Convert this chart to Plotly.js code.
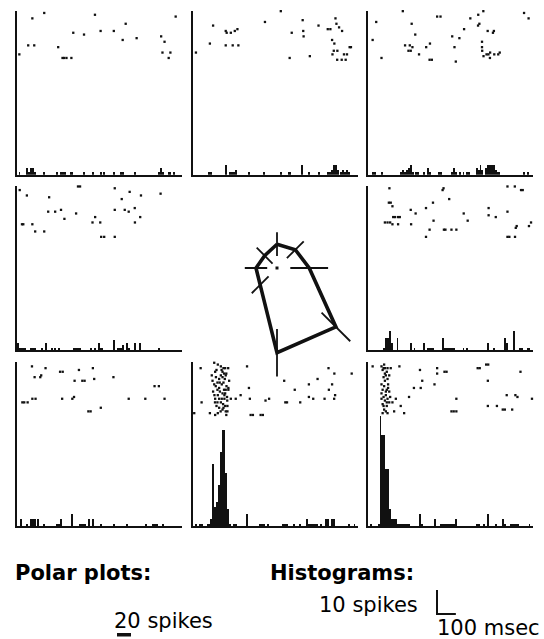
<!DOCTYPE html>
<html><head><meta charset="utf-8">
<script src="https://cdn.plot.ly/plotly-3.0.1.min.js"></script>
<style>html,body{margin:0;padding:0;background:#fff}#chart{width:544px;height:639px}</style>
</head><body><div id="chart"></div>
<script>
// ---------- DATA ----------
// Raster: spike times (ms) and trial numbers; histogram: bin start (ms, 10 ms bins) and spike counts
const r11T = [14,61,88,83,61,93,146,220,243,251,264,290,300,357,415,467,445,515,578,562,636,766,784,773,815,806,843];
const r11Trial = [26,1,1,6,21,21,3,22,28,28,28,28,14,15,4,1,13,13,9,18,17,16,19,25,25,28,5];
const h11Bins = [10,50,60,70,80,90,140,210,230,240,250,280,290,350,400,440,460,510,550,560,620,750,760,770,800,810,830];
const h11Counts = [1,3,1,3,3,1,1,1,1,1,1,1,1,1,1,1,1,1,1,1,1,1,3,1,1,1,1];

const r12T = [14,88,105,172,177,199,220,234,172,209,239,295,380,464,511,522,580,583,585,618,664,713,727,754,759,773,789,736,748,745,764,738,763,787,808,799,815,829,836];
const r12Trial = [25,20,10,13,14,14,13,12,21,21,21,1,8,2,28,14,7,13,16,27,10,12,12,6,9,11,13,18,20,24,24,26,29,29,29,26,26,22,22];
const h12Bins = [80,90,170,190,200,210,220,290,370,460,500,510,570,610,660,710,720,730,740,750,760,780,790,800,810,820];
const h12Counts = [1,1,4,1,1,1,2,1,1,1,1,1,4,1,1,1,1,2,4,4,2,1,2,1,2,1];

const r13T = [23,42,70,183,230,249,195,220,213,225,234,269,307,327,325,337,365,383,445,457,464,483,508,541,582,589,583,610,633,661,666,603,603,604,611,627,637,646,645,668,689,697,826,850];
const r13Trial = [18,8,28,2,9,15,21,21,24,24,22,26,22,20,29,29,5,5,16,22,30,17,12,6,10,9,4,2,13,14,13,19,22,24,27,26,26,25,28,26,26,25,3,6];
const h13Bins = [20,30,70,170,180,190,200,210,220,230,250,260,290,310,320,370,380,440,450,460,480,500,520,530,570,580,590,600,620,630,640,650,660,670,680,690,820,840];
const h13Counts = [1,1,1,1,2,1,2,3,4,1,1,1,1,3,1,1,1,1,3,1,1,1,1,1,3,2,4,2,3,4,4,4,4,2,1,1,1,1];

const r21T = [16,54,28,35,83,98,146,172,167,204,235,253,315,325,336,402,416,443,448,464,520,520,520,557,573,594,599,626,627,655,659,763];
const r21Trial = [4,7,23,23,23,27,27,8,16,16,15,20,17,2,2,22,19,22,30,30,3,15,30,9,15,16,5,14,22,19,7,6];
const h21Bins = [0,10,20,30,40,70,80,90,130,150,180,200,220,300,310,320,330,390,410,430,440,450,510,530,540,550,560,580,590,620,650,750];
const h21Counts = [3,1,1,1,1,1,1,1,1,3,1,1,1,1,1,1,1,1,1,3,1,1,4,1,1,1,2,3,1,3,3,1];

const r23T = [112,109,119,128,132,142,158,167,88,102,116,128,158,225,251,227,306,343,346,325,306,394,399,429,401,409,441,467,506,527,638,638,676,738,777,810,819,738,738,748,778,782,787,852,863];
const r23Trial = [3,11,11,13,19,19,19,19,22,22,22,23,23,15,17,23,14,11,21,26,30,4,3,9,26,26,26,26,17,21,14,18,19,2,2,4,4,16,30,30,30,25,24,24,22];
const h23Bins = [80,90,100,110,120,150,220,240,290,310,320,330,340,390,400,410,420,430,440,450,500,520,630,660,720,730,770,800,810,840,850];
const h23Counts = [1,5,5,8,3,5,3,1,3,1,1,1,1,5,1,1,1,1,1,1,1,1,3,1,5,3,8,1,1,1,1];

const r31T = [81,223,95,125,130,153,230,244,330,307,348,360,404,411,513,30,40,58,83,100,241,295,304,380,392,446,594,682,784,731,754];
const r31Trial = [4,1,10,10,9,5,7,7,6,12,12,12,5,11,10,24,24,24,22,22,22,22,21,29,29,27,22,22,22,15,15];
const h31Bins = [20,50,70,80,90,110,140,210,220,230,290,330,340,350,360,380,400,440,510,580,680,720,730,740,770];
const h31Counts = [3,1,3,3,3,3,1,1,1,3,5,1,1,1,1,3,3,1,1,1,1,1,1,1,1];

const r32T = [5,39,44,88,116,120,128,142,172,186,199,225,251,285,295,300,304,316,357,369,383,402,482,488,497,538,567,613,613,636,659,696,717,736,719,748,752,747,840,
  111,123,116,146,160,169,155,163,172,146,155,167,137,102,111,128,119,137,151,160,176,186,163,172,186,128,141,155,169,179,165,151,137,116,128,146,158,169,181,137,155,172,181,123,112,105,98,199,130,150,175,120,140,165,130,180,115,160,145,130,175,190,185];
const r32Trial = [30,5,24,30,31,1,1,1,1,1,1,22,20,4,16,22,31,31,31,31,23,22,12,24,24,17,24,14,21,22,11,22,5,14,17,8,20,22,8,
  2,6,7,4,5,5,7,8,9,9,10,11,11,12,14,13,15,16,14,13,15,16,17,17,17,17,18,19,19,21,22,22,22,22,24,24,25,26,26,27,28,29,29,26,20,18,9,22,3,6,8,10,13,20,20,23,24,27,29,30,31,12,5];
const h32Bins = [10,30,40,70,80,90,100,110,120,130,140,150,160,170,180,190,210,220,280,350,360,370,390,470,480,490,530,560,600,610,620,630,640,650,670,700,710,730,740,820,850];
const h32Counts = [1,1,1,1,1,3,26,8,10,17,31,40,40,22,7,1,1,1,5,1,1,1,1,1,1,1,1,1,3,1,1,1,1,1,1,3,3,3,3,1,1];

const r33T = [23,165,274,286,278,242,216,365,365,351,404,415,427,435,467,441,453,467,580,591,625,636,634,634,682,713,724,763,734,780,791,773,807,868,
  76,93,84,102,119,76,88,98,81,102,88,105,84,98,76,93,81,102,88,76,98,84,76,102,111,116,128,146,105,137,172,190,70,81,93,70,93,70,81,93,111,88,111,70,98];
const r33Trial = [4,4,6,12,16,16,21,5,8,14,7,7,1,1,22,29,29,29,5,5,3,3,12,26,26,28,28,28,20,20,21,1,7,22,
  1,1,3,5,5,6,8,7,10,11,12,14,15,17,17,18,21,22,23,25,26,28,30,30,24,21,24,22,16,29,26,30,4,5,9,14,20,22,26,29,18,5,9,19,24];
const h33Bins = [10,50,60,70,80,90,100,110,120,130,140,150,160,170,180,190,200,210,270,280,350,380,390,400,410,420,430,440,450,460,570,580,610,630,670,710,720,750,760,770,780,790,850];
const h33Counts = [1,1,46,38,38,24,24,7,3,3,3,1,1,1,1,1,1,1,5,1,3,1,1,1,1,1,1,1,1,3,1,1,1,5,1,3,1,1,1,1,1,1,1];

// Polar plot: direction (deg, 0 = right, counter-clockwise), mean response and error (spikes)
const polarDirs = [90, 45, 0, 315, 270, 225, 180, 135];
const polarMean = [34, 37, 46, 119, 121, 34, 30, 25];
const polarErr  = [17, 17, 27, 29, 34, 17, 16, 16];

// ---------- LAYOUT GEOMETRY ----------
const W = 544, H = 639;
const colLeft = [16.7, 193.3, 368.3], colW = 165;
const rowTop = [10.7, 186, 362.3], rowH = 164;
const T_MAX = 875;              // ms shown per panel
const PX_PER_SPIKE = 2.4;       // histogram vertical scale
const ROW_PX = 1.8;             // raster trial spacing
const POLAR_PX_PER_SPIKE = 0.7;
const polarC = [277, 268], polarR = 130;
const fx = p => p / W, fy = p => 1 - p / H;

const panels = [
  {row:0,col:0,t:r11T,tr:r11Trial,b:h11Bins,c:h11Counts},
  {row:0,col:1,t:r12T,tr:r12Trial,b:h12Bins,c:h12Counts},
  {row:0,col:2,t:r13T,tr:r13Trial,b:h13Bins,c:h13Counts},
  {row:1,col:0,t:r21T,tr:r21Trial,b:h21Bins,c:h21Counts},
  {row:1,col:2,t:r23T,tr:r23Trial,b:h23Bins,c:h23Counts},
  {row:2,col:0,t:r31T,tr:r31Trial,b:h31Bins,c:h31Counts},
  {row:2,col:1,t:r32T,tr:r32Trial,b:h32Bins,c:h32Counts},
  {row:2,col:2,t:r33T,tr:r33Trial,b:h33Bins,c:h33Counts}
];

const INK = '#111';
const traces = [];
const layout = {
  width: W, height: H, margin: {l:0, r:0, t:0, b:0},
  paper_bgcolor: '#fff', plot_bgcolor: 'rgba(0,0,0,0)',
  showlegend: false, bargap: 0, barmode: 'overlay',
  font: {family: 'DejaVu Sans, sans-serif', color: '#000'},
  annotations: [], shapes: []
};

const tTop = 1 + 1.33 / ROW_PX;
panels.forEach((p, i) => {
  const n = i + 1, rn = i + 9;
  const xs = n === 1 ? '' : String(n);
  const xd = [fx(colLeft[p.col]), fx(colLeft[p.col] + colW)];
  const yd = [fy(rowTop[p.row] + rowH), fy(rowTop[p.row])];
  layout['xaxis' + xs] = {domain: xd, anchor: 'y' + xs, range: [0, T_MAX], showline: true, linewidth: 2,
    linecolor: INK, showgrid: false, zeroline: false, showticklabels: false, ticks: '', fixedrange: true};
  layout['yaxis' + xs] = {domain: yd, anchor: 'x' + xs, range: [0, rowH / PX_PER_SPIKE], showline: true, linewidth: 2,
    linecolor: INK, showgrid: false, zeroline: false, showticklabels: false, ticks: '', fixedrange: true};
  layout['yaxis' + rn] = {domain: yd, anchor: 'x' + xs, overlaying: 'y' + xs, visible: false,
    range: [tTop + rowH / ROW_PX, tTop], fixedrange: true};
  traces.push({type: 'bar', x: p.b, y: p.c, width: 10, offset: 0, xaxis: 'x' + xs, yaxis: 'y' + xs,
    marker: {color: INK, line: {width: 0}}, hoverinfo: 'skip'});
  traces.push({type: 'scatter', mode: 'markers', x: p.t, y: p.tr, xaxis: 'x' + xs, yaxis: 'y' + rn,
    cliponaxis: false, marker: {symbol: 'square', size: 2.3, color: INK, line: {width: 0}}, hoverinfo: 'skip'});
});

// Polar plot
const polyR = polarMean.concat([polarMean[0]]);
const polyT = polarDirs.concat([polarDirs[0]]);
const errR = [], errT = [];
polarDirs.forEach((d, k) => { errR.push(polarMean[k] - polarErr[k], polarMean[k] + polarErr[k], null); errT.push(d, d, null); });
traces.push({type: 'scatterpolar', r: errR, theta: errT, mode: 'lines', connectgaps: false,
  line: {color: INK, width: 1.8}, cliponaxis: false, hoverinfo: 'skip'});
traces.push({type: 'scatterpolar', r: polyR, theta: polyT, mode: 'lines',
  line: {color: INK, width: 3.6}, cliponaxis: false, hoverinfo: 'skip'});
traces.push({type: 'scatterpolar', r: [0], theta: [0], mode: 'markers',
  marker: {symbol: 'square', size: 3, color: INK}, hoverinfo: 'skip'});
layout.polar = {
  domain: {x: [fx(polarC[0] - polarR), fx(polarC[0] + polarR)], y: [fy(polarC[1] + polarR), fy(polarC[1] - polarR)]},
  bgcolor: 'rgba(0,0,0,0)',
  radialaxis: {visible: false, range: [0, polarR / POLAR_PX_PER_SPIKE]},
  angularaxis: {visible: false, rotation: 0, direction: 'counterclockwise'}
};

// Legend texts
const ann = (text, xpx, topPx, bold) => ({
  text: bold ? '<b>' + text + '</b>' : text, xref: 'paper', yref: 'paper',
  x: fx(xpx), y: fy(topPx), xanchor: 'left', yanchor: 'top', showarrow: false,
  font: {family: 'DejaVu Sans, sans-serif', size: 21, color: '#000'}
});
layout.annotations.push(ann('Polar plots:', 13, 558.5, true));
layout.annotations.push(ann('Histograms:', 268, 558.5, true));
layout.annotations.push(ann('20 spikes', 112, 606.5, false));
layout.annotations.push(ann('10 spikes', 317, 590.5, false));
layout.annotations.push(ann('100 msec', 435, 614, false));

// Scale bars
const polarBar = 20 * POLAR_PX_PER_SPIKE;
layout.shapes.push({type: 'rect', xref: 'paper', yref: 'paper', x0: fx(117), x1: fx(117 + polarBar),
  y0: fy(636.5), y1: fy(633), fillcolor: INK, line: {width: 0}});
const histV = 10 * PX_PER_SPIKE, histH = 100 * colW / T_MAX;
const Lx = 437, Ly = 614;
layout.shapes.push({type: 'line', xref: 'paper', yref: 'paper', x0: fx(Lx), x1: fx(Lx), y0: fy(Ly), y1: fy(Ly - histV), line: {color: INK, width: 2}});
layout.shapes.push({type: 'line', xref: 'paper', yref: 'paper', x0: fx(Lx - 1), x1: fx(Lx + histH), y0: fy(Ly), y1: fy(Ly), line: {color: INK, width: 2}});

Plotly.newPlot('chart', traces, layout, {staticPlot: true, displayModeBar: false});
</script>
</body></html>
